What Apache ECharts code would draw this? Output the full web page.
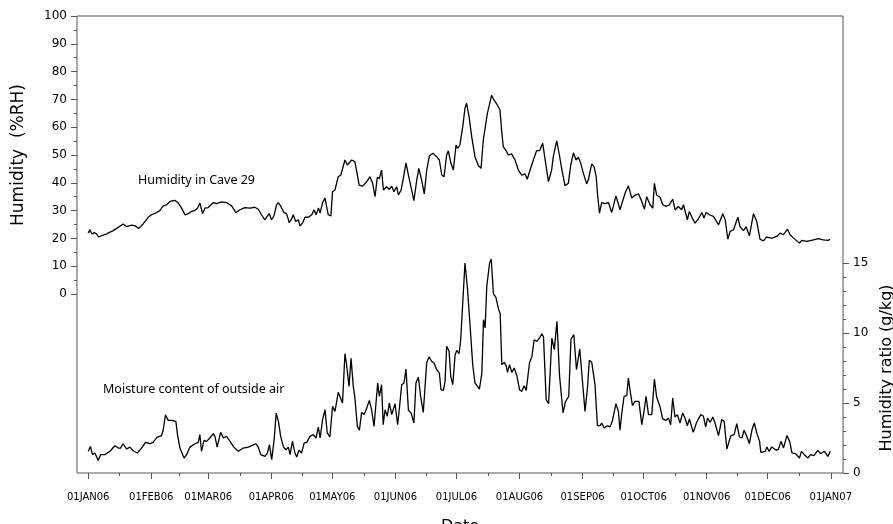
<!DOCTYPE html>
<html>
<head>
<meta charset="utf-8">
<script src="https://cdn.jsdelivr.net/npm/echarts@6/dist/echarts.min.js"></script>
<style>
html,body{margin:0;padding:0;background:#fff;}
#chart{width:893px;height:524px;}
</style>
</head>
<body>
<div id="chart"></div>
<script>
// Day offsets from 01JAN06 where month ticks sit, and their labels
const monthTicks = [0,31,59,90,120,151,181,212,243,273,304,334,365];
const monthLabels = ['01JAN06','01FEB06','01MAR06','01APR06','01MAY06','01JUN06','01JUL06','01AUG06','01SEP06','01OCT06','01NOV06','01DEC06','01JAN07'];
const midMonthTicks = [15.5,45,74.5,105,135.5,166,196.5,227.5,258,288.5,319,349.5];
const rhTicks = [0,10,20,30,40,50,60,70,80,90,100];
const ratioTicks = [0,5,10,15];

// Humidity in Cave 29 (%RH): [day of 2006, value]
const caveHumidity = [[0,21.9],[0.8,23.1],[1.8,21.6],[3,22.1],[4.1,21.6],[5.1,20.5],[9,21.6],[12.3,22.8],[14,23.6],[17.2,25.2],[18.9,24.2],[21.3,24.8],[23,24.5],[24.9,23.6],[27,25.2],[29.5,27.6],[31.1,28.5],[33.6,29.3],[35.2,30.0],[36.9,31.7],[38.5,32.1],[40.2,33.3],[42.6,33.7],[44.3,32.7],[45.9,30.9],[47.6,28.5],[49.2,28.9],[50.8,29.7],[52.5,30.1],[53.8,30.9],[54.9,32.7],[56.2,28.9],[57.4,30.9],[59,31.1],[61.5,32.9],[63.1,32.5],[65.6,33.1],[68,32.9],[70.5,31.7],[72.6,29.3],[74.6,30.3],[77,31.1],[79.5,30.9],[81.9,31.2],[83.6,30.5],[85.2,28.5],[86.8,26.7],[88,27.9],[89,28.9],[90.1,26.7],[91.3,28.1],[92.6,32.1],[93.4,32.9],[94.6,31.7],[96.2,29.3],[97.5,28.9],[98.8,25.7],[100,27.0],[100.8,28.5],[102,26.1],[103.3,26.7],[104.1,24.5],[105.3,25.5],[106.6,27.6],[108.2,27.6],[109.9,28.5],[111,30.3],[112,28.5],[113.2,30.9],[114,29.1],[115.2,32.9],[116.4,34.5],[118,28.5],[119.3,28.1],[120.1,36.8],[121.3,37.4],[122.9,42.2],[124.2,42.8],[125,42.2],[126.2,48.2],[127.4,46.4],[129.5,48.2],[131.1,47.6],[131.9,47.0],[133.2,39.2],[134.9,38.8],[136.9,40.4],[138.5,42.2],[139.8,39.8],[141,35.0],[142.1,42.0],[143.1,41.5],[144.2,44.6],[145.1,37.4],[146.7,38.6],[148,37.6],[149.2,38.8],[150.3,36.8],[151.6,38.6],[152.5,35.6],[153.8,37.4],[154.9,41.6],[156.2,47.2],[157.4,42.8],[159,37.4],[160.1,33.6],[161.5,41.0],[162.5,45.2],[163.9,41.0],[165.2,36.0],[166.4,44.6],[167.7,49.6],[169.4,50.6],[171.3,49.4],[172.6,48.2],[173.8,42.8],[174.9,42.2],[176.2,50.0],[177,51.5],[178.3,47.0],[179.5,44.6],[180.8,53.6],[181.6,52.4],[182.7,53.6],[184.1,60.2],[185.2,66.8],[186,68.6],[187.2,63.8],[188.5,56.6],[190.1,49.4],[191.8,46.1],[193.1,45.2],[194.2,55.4],[195,56.0],[196.2,65.0],[197.2,68.0],[198.3,71.5],[199.5,69.7],[201.1,68.0],[202.4,66.2],[203.2,59.0],[204,53.0],[205.7,51.2],[206.5,50.0],[208.1,50.4],[209.8,48.2],[211.4,44.6],[213.1,42.8],[214.7,43.2],[215.8,41.3],[217.2,44.6],[218.8,48.2],[220.4,51.5],[222,51.7],[223.4,54.2],[224.5,48.8],[226.2,40.4],[227.8,44.6],[228.6,49.4],[229.4,49.2],[230.3,55.1],[231.6,50.0],[232.7,45.2],[234.4,38.9],[236,39.8],[237.2,46.4],[238.5,50.8],[239.8,48.2],[240.9,49.2],[242.1,47.0],[243.4,43.4],[245,39.6],[245.8,41.0],[247.5,46.8],[248.7,45.6],[249.7,42.2],[250.3,36.3],[251.3,29.1],[252.4,32.9],[254,32.5],[255.7,32.9],[257.3,29.3],[259.4,35.3],[261.4,30.3],[263.9,36.3],[265.5,38.9],[267.2,34.5],[268.8,35.6],[270.5,36.0],[272.1,33.3],[273.4,30.5],[274.5,35.0],[276.2,32.1],[277.5,30.9],[278.3,39.8],[279.4,35.6],[281.1,34.8],[282.4,32.1],[284,31.5],[285.7,32.1],[287.3,34.1],[288.5,30.3],[290.1,31.5],[291.7,30.3],[292.6,32.1],[294.5,26.7],[295.5,29.7],[296.9,27.3],[298.3,25.5],[299.9,27.0],[301.6,29.3],[302.7,27.3],[303.7,29.3],[305.3,28.5],[307.3,27.9],[309.8,24.9],[311.9,28.9],[313.1,26.7],[314.4,19.7],[315.5,22.5],[317.2,23.1],[319.3,27.6],[320.4,24.2],[322.1,22.8],[323.4,24.2],[325,20.9],[327,28.9],[328.6,26.1],[330.2,19.7],[331.9,19.1],[333.5,20.5],[336,20.1],[338.4,20.7],[340.1,21.9],[341.7,21.3],[343.7,23.3],[345,21.3],[346.7,20.1],[349.6,18.3],[350.7,19.3],[353.2,18.9],[356.5,19.5],[358.9,19.9],[361.3,19.5],[363.8,19.3],[364.6,19.7]];

// Moisture content of outside air (g/kg): [day of 2006, value]
const outsideRatio = [[0,1.54],[1.1,1.9],[2.1,1.31],[3.3,1.43],[4.9,0.9],[6.1,1.31],[8.2,1.31],[10.7,1.55],[13.1,1.95],[14.8,1.78],[15.9,1.78],[17.2,2.09],[18.9,1.71],[20.5,1.85],[22.1,1.59],[24.1,1.43],[26.2,1.78],[28.2,2.19],[30.3,2.09],[31.9,2.19],[33.9,2.57],[36,2.66],[36.9,3.09],[38,4.16],[39.3,3.76],[41,3.76],[43.1,3.69],[43.9,2.74],[45.1,1.78],[47.1,1.07],[48.4,1.31],[50,1.85],[52.5,2.09],[54.1,2.19],[54.9,2.74],[55.7,1.55],[56.9,2.33],[58.2,2.26],[59.8,2.5],[61.5,2.81],[62.3,2.62],[63.4,1.85],[65.1,2.9],[66.4,2.5],[68,2.62],[69.7,2.26],[71.6,1.85],[73.8,1.55],[76.2,1.78],[78.7,1.85],[80.3,1.95],[82.5,2.09],[83.6,1.85],[84.8,1.31],[86.9,1.19],[88.1,1.43],[89.1,2.02],[90.2,0.95],[91.4,2.38],[92.4,4.28],[93.5,3.69],[94.6,2.62],[96,1.85],[97.2,1.66],[98.4,1.85],[99.2,1.31],[100.4,2.26],[101.6,1.43],[102.5,1.14],[103.6,1.62],[104.9,1.43],[106.1,2.14],[107.4,2.19],[109,2.62],[110.6,2.74],[112,2.5],[113.1,3.28],[114,2.5],[115.2,3.81],[116.4,4.52],[117.5,2.86],[118.8,2.57],[120.1,4.76],[121.3,4.4],[122.9,5.76],[123.7,5.48],[125,5.0],[126.2,8.52],[127,7.74],[128.2,6.19],[129.2,8.19],[130.3,6.19],[131.1,5.36],[132.3,3.33],[133.3,3.05],[134.4,4.33],[135.6,4.17],[136.9,4.64],[138.2,5.19],[139.3,4.52],[140.5,3.33],[141.4,3.21],[142.3,6.43],[143.1,5.48],[144.2,6.31],[145,3.45],[145.9,4.52],[147,4.05],[148,5.0],[149.2,4.17],[150.8,4.95],[152.1,3.45],[152.9,4.52],[154.1,6.31],[155.2,6.43],[156.2,7.43],[157.4,4.48],[158.7,4.29],[160.1,3.57],[161.1,6.43],[162.3,6.86],[163.4,5.48],[164.7,4.33],[165.5,4.24],[166.4,7.9],[167.5,8.29],[168.8,7.98],[170,7.86],[171.3,7.38],[172.6,7.14],[173.4,5.95],[174.6,5.9],[175.4,6.55],[176.2,9.05],[177.4,8.69],[178.2,6.9],[179.2,6.31],[180.3,8.38],[181.1,8.76],[182.3,8.52],[183.1,9.52],[184.1,12.14],[185.2,15.0],[186.4,13.21],[187.7,10.52],[189,7.74],[190.1,6.43],[191,6.55],[192.3,6.0],[193.5,7.14],[194.3,10.95],[195.1,10.36],[195.9,13.33],[197.3,15.0],[198.1,15.29],[199.2,12.79],[200.4,12.55],[201.7,11.71],[202.5,11.36],[203.3,7.74],[204.5,7.9],[205.5,7.62],[206.1,7.19],[207.1,7.74],[208.2,7.19],[209.4,7.5],[210.7,6.95],[212,5.95],[213.1,5.83],[214.3,6.24],[215.3,5.9],[216.9,7.86],[218.1,8.33],[219.2,9.52],[220.5,9.4],[221.8,9.64],[223,9.95],[223.8,9.71],[225.1,5.24],[226.3,4.95],[227.9,9.64],[229.1,8.81],[230.4,10.83],[231.7,6.9],[233.4,4.29],[234.5,5.05],[236.2,5.48],[237.3,9.57],[238.7,9.88],[240,7.38],[240.8,7.33],[241.6,8.86],[242.6,7.14],[244.2,4.4],[245.4,6.07],[246.3,8.05],[247.5,7.9],[249.1,6.31],[250.3,3.38],[251.6,3.38],[252.4,3.57],[253.6,3.21],[255.2,3.38],[256.5,3.29],[257.6,3.69],[259.4,4.95],[260.6,4.4],[261.4,3.05],[262.2,4.17],[263.4,5.48],[264.7,5.52],[265.5,6.79],[266.3,5.95],[267.5,4.81],[268.8,5.12],[270.7,5.12],[272.1,3.45],[273.2,4.4],[274.2,5.48],[275.4,4.17],[277,4.17],[278.3,6.71],[279.4,5.43],[281.1,4.71],[282.4,3.86],[284,3.76],[285.2,3.93],[286.3,3.45],[287.3,5.36],[288.4,4.0],[289.6,4.17],[290.9,3.57],[292.2,4.29],[293.3,3.93],[294.5,3.38],[295.5,3.86],[297.4,2.9],[299.1,3.62],[301.1,4.17],[302.4,4.05],[303.5,3.29],[304.5,3.93],[305.7,3.62],[307,4.0],[308.1,3.57],[309.8,2.67],[311.4,3.81],[312.6,3.69],[313.9,1.71],[314.7,1.79],[315.9,2.67],[317.5,2.74],[318.8,3.52],[320.1,2.57],[321.3,2.5],[322.4,3.05],[323.7,2.62],[325,2.09],[326.2,3.05],[327.4,3.57],[328.7,2.81],[330,2.26],[330.6,1.48],[332.8,1.55],[333.6,1.86],[334.7,1.55],[336,1.86],[338.2,1.62],[339.3,1.71],[340.5,2.26],[341.8,1.79],[343.4,2.67],[344.8,2.26],[345.9,1.43],[347.6,1.38],[348.4,1.48],[349.6,1.07],[350.6,1.55],[352,1.31],[353.7,1.07],[355,1.31],[356.7,1.24],[358.6,1.62],[359.9,1.38],[361.9,1.55],[363.5,1.19],[364.8,1.55]];

const X_MIN = -5.5, X_MAX = 371;
const AXIS_COLOR = '#555';
const tickFont = {fontFamily:'DejaVu Sans', fontSize:12, color:'#000'};

const chart = echarts.init(document.getElementById('chart'), null, {renderer:'canvas'});
const option = {
  animation: false,
  backgroundColor: '#fff',
  grid: [
    {left:77, top:16, width:766, height:278, outerBoundsMode:'none', containLabel:false},
    {left:77, top:263, width:766, height:210, outerBoundsMode:'none', containLabel:false},
    {left:77, top:16, width:766, height:457, outerBoundsMode:'none', containLabel:false,
      show:true, borderColor:AXIS_COLOR, borderWidth:1, backgroundColor:'transparent'}
  ],
  xAxis: [
    {gridIndex:0, type:'value', min:X_MIN, max:X_MAX, show:false},
    {gridIndex:1, type:'value', min:X_MIN, max:X_MAX, position:'bottom',
      axisLine:{show:false, onZero:false}, splitLine:{show:false},
      axisTick:{show:true, customValues:monthTicks, length:6, lineStyle:{color:AXIS_COLOR}},
      axisLabel:{customValues:monthTicks, margin:19, fontFamily:'DejaVu Sans', fontSize:10, color:'#000',
        formatter:(v)=>{const i = monthTicks.indexOf(Math.round(v)); return i>=0 ? monthLabels[i] : '';}},
      name:'Date', nameLocation:'middle', nameGap:46,
      nameTextStyle:{fontFamily:'DejaVu Sans', fontSize:16, color:'#000'}},
    {gridIndex:1, type:'value', min:X_MIN, max:X_MAX, position:'bottom',
      axisLine:{show:false, onZero:false}, splitLine:{show:false}, axisLabel:{show:false},
      axisTick:{show:true, customValues:midMonthTicks, length:3, lineStyle:{color:AXIS_COLOR}}},
    {gridIndex:2, type:'value', min:X_MIN, max:X_MAX, show:false}
  ],
  yAxis: [
    {gridIndex:0, type:'value', min:0, max:100, interval:10, position:'left',
      axisLine:{show:false, onZero:false}, splitLine:{show:false},
      axisTick:{show:true, length:6, lineStyle:{color:AXIS_COLOR}},
      minorTick:{show:true, splitNumber:2, length:3, lineStyle:{color:AXIS_COLOR}},
      axisLabel:Object.assign({margin:10, customValues:rhTicks}, tickFont),
      name:'Humidity  (%RH)', nameLocation:'middle', nameGap:50, nameRotate:90,
      nameTextStyle:{fontFamily:'DejaVu Sans', fontSize:17, color:'#000'}},
    {gridIndex:1, type:'value', min:0, max:15, interval:5, position:'right',
      axisLine:{show:false, onZero:false}, splitLine:{show:false},
      axisTick:{show:true, length:6, lineStyle:{color:AXIS_COLOR}},
      minorTick:{show:true, splitNumber:5, length:3, lineStyle:{color:AXIS_COLOR}},
      axisLabel:Object.assign({margin:10, customValues:ratioTicks}, tickFont),
      name:'Humidity ratio (g/kg)', nameLocation:'middle', nameGap:32, nameRotate:90,
      nameTextStyle:{fontFamily:'DejaVu Sans', fontSize:16, color:'#000'}},
    {gridIndex:2, type:'value', min:0, max:1, show:false}
  ],
  graphic: [
    {type:'text', left:138, top:174, style:{text:'Humidity in Cave 29', font:'12.5px "Noto Sans"', fill:'#000'}},
    {type:'text', left:103, top:383, style:{text:'Moisture content of outside air', font:'12.5px "Noto Sans"', fill:'#000'}}
  ],
  series: [
    {type:'line', name:'Humidity in Cave 29', xAxisIndex:0, yAxisIndex:0, data:caveHumidity,
      showSymbol:false, symbol:'none', clip:false, lineStyle:{color:'#000', width:1.3}},
    {type:'line', name:'Moisture content of outside air', xAxisIndex:1, yAxisIndex:1, data:outsideRatio,
      showSymbol:false, symbol:'none', clip:false, lineStyle:{color:'#000', width:1.3}}
  ]
};
chart.setOption(option);
</script>
</body>
</html>
